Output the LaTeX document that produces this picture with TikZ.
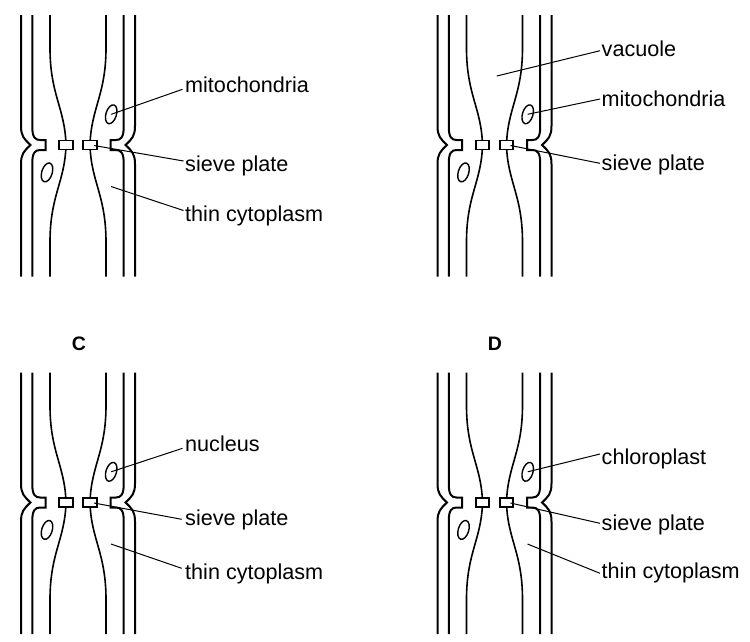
\documentclass[tikz,border=0pt]{standalone}
\usepackage{fontspec}
\setmainfont{Liberation Sans}
\usetikzlibrary{shapes.geometric}

\begin{document}
\begin{tikzpicture}[x=1pt, y=-1pt]
\tikzset{cellwall/.style={line width=2pt},
  plasma/.style={line width=1.6pt},
  sieveplate/.style={draw, fill=white, line width=1.7pt, minimum width=13.5pt, minimum height=9pt, inner sep=0pt},
  organelle/.style={draw, ellipse, line width=1.4pt, minimum width=10.5pt, minimum height=19.5pt, inner sep=0pt, rotate=-17},
  leader/.style={line width=1pt},
  lbl/.style={inner sep=0pt, anchor=base west, font=\fontsize{21.6}{26}\selectfont},
  panelletter/.style={inner sep=0pt, font=\fontsize{19.5}{22}\selectfont\bfseries}}
\useasboundingbox (0,0) rectangle (750,641);
\foreach \dx/\dy/\p in {0/0/A, 416.5/0/B, 0/357.5/C, 416.5/357.5/D} {
\begin{scope}[shift={(\dx,\dy)}]
\draw[cellwall] (21,15) -- (21,126) .. controls (21,136) and (24,139) .. (30.5,145) .. controls (24,151) and (21,154) .. (21,164) -- (21,276.5);
\draw[cellwall] (32.3,15) -- (32.3,127) .. controls (32.3,137) and (35,140) .. (40,140) -- (45.5,140) -- (45.5,150) -- (40,150) .. controls (35,150) and (32.3,153) .. (32.3,163) -- (32.3,276.5);
\draw[cellwall] (135,15) -- (135,126) .. controls (135,136) and (132,139) .. (125.5,145) .. controls (132,151) and (135,154) .. (135,164) -- (135,276.5);
\draw[cellwall] (123.7,15) -- (123.7,127) .. controls (123.7,137) and (121,140) .. (116,140) -- (110.5,140) -- (110.5,150) -- (116,150) .. controls (121,150) and (123.7,153) .. (123.7,163) -- (123.7,276.5);
\draw[plasma] (50,15) -- (50,48) .. controls (50,95) and (65,108) .. (66,145) .. controls (65,182) and (50,195) .. (50,242) -- (50,276.5);
\draw[plasma] (106,15) -- (106,48) .. controls (106,95) and (91,108) .. (90,145) .. controls (91,182) and (106,195) .. (106,242) -- (106,276.5);
\node[sieveplate] (pl\p) at (66,145) {};
\node[sieveplate] (pr\p) at (90,145) {};
\node[organelle] (oup\p) at (111.2,114.3) {};
\node[organelle] (olow\p) at (47,172.4) {};
\coordinate (sp\p) at (94,145.5);
\coordinate (cy\p) at (111,186.5);
\coordinate (va\p) at (80.3,76);
\end{scope}
}
\node[panelletter] (tC) at (79,343.5) {C};
\node[panelletter] (tD) at (495,343.5) {D};
% A
\node[lbl] (mitoA) at (185,92.7) {mitochondria};
\node[lbl] (sieveA) at (185,171.7) {sieve plate};
\node[lbl] (thinA) at (185,221.7) {thin cytoplasm};
\draw[leader] (oupA.center) -- ([shift={(-2.5,-3.4)}]mitoA.base west);
\draw[leader] (spA) -- ([shift={(-1.5,-10.7)}]sieveA.base west);
\draw[leader] (cyA) -- ([shift={(-1.5,-11.2)}]thinA.base west);
% B
\node[lbl] (vacB) at (601.5,56.7) {vacuole};
\node[lbl] (mitoB) at (601.5,106) {mitochondria};
\node[lbl] (sieveB) at (601.5,170.7) {sieve plate};
\draw[leader] (vaB) -- ([shift={(-1.5,-6)}]vacB.base west);
\draw[leader] (oupB.center) -- ([shift={(-1.5,-7)}]mitoB.base west);
\draw[leader] (spB) -- ([shift={(-1.5,-7.4)}]sieveB.base west);
% C
\node[lbl] (nucC) at (185,451) {nucleus};
\node[lbl] (sieveC) at (185,525.7) {sieve plate};
\node[lbl] (thinC) at (185,579) {thin cytoplasm};
\draw[leader] (oupC.center) -- ([shift={(-2.5,-2.7)}]nucC.base west);
\draw[leader] (spC) -- ([shift={(-3.3,-6.4)}]sieveC.base west);
\draw[leader] (cyC) -- ([shift={(-3.3,-10.7)}]thinC.base west);
% D
\node[lbl] (chlD) at (601.5,464.3) {chloroplast};
\node[lbl] (sieveD) at (601.5,530) {sieve plate};
\node[lbl] (thinD) at (601.5,578.3) {thin cytoplasm};
\draw[leader] (oupD.center) -- ([shift={(-1.5,-10.3)}]chlD.base west);
\draw[leader] (spD) -- ([shift={(-1.5,-6.7)}]sieveD.base west);
\draw[leader] (cyD) -- ([shift={(-1.5,-5)}]thinD.base west);
\end{tikzpicture}
\end{document}
